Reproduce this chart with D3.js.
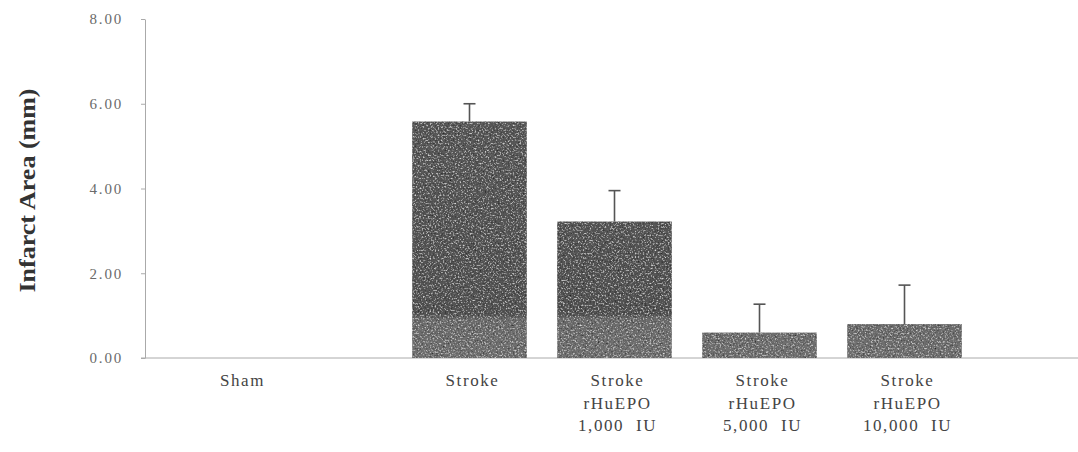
<!DOCTYPE html>
<html>
<head>
<meta charset="utf-8">
<script src="https://cdn.jsdelivr.net/npm/d3@7"></script>
<style>
  body { margin: 0; background: #fff; }
  svg { display: block; }
</style>
</head>
<body>
<svg id="chart" width="1078" height="452"></svg>
<script>
// data
const categories = ["Sham", "Stroke", "Stroke 1,000", "Stroke 5,000", "Stroke 10,000"];
const labelLines = [
  ["Sham"],
  ["Stroke"],
  ["Stroke", "rHuEPO", "1,000  IU"],
  ["Stroke", "rHuEPO", "5,000  IU"],
  ["Stroke", "rHuEPO", "10,000  IU"],
];
const means = [0, 5.58, 3.22, 0.6, 0.8];
const errors = [0, 0.42, 0.73, 0.67, 0.92];
const yTicks = [0, 2, 4, 6, 8];

const svg = d3.select("#chart");
const W = 1078, H = 452;
const margin = { top: 19, left: 145, bottom: 94 };

const y = d3.scaleLinear([0, 8], [H - margin.bottom, margin.top]);
const x = d3.scaleBand(categories, [252, 977]).paddingInner(0.21).paddingOuter(0.105);

// texture for the scanned bars: dark / light speckles laid over the fill
const defs = svg.append("defs");
const f = defs.append("filter").attr("id", "grain").attr("x", 0).attr("y", 0).attr("width", 1).attr("height", 1);
f.append("feTurbulence").attr("type", "fractalNoise").attr("baseFrequency", 0.6).attr("numOctaves", 2).attr("seed", 7).attr("result", "n");
f.append("feColorMatrix").attr("in", "n").attr("type", "matrix")
  .attr("values", "0 0 0 0 0  0 0 0 0 0  0 0 0 0 0  2.4 0 0 0 -1.3").attr("result", "dark");
f.append("feColorMatrix").attr("in", "n").attr("type", "matrix")
  .attr("values", "0 0 0 0 1  0 0 0 0 1  0 0 0 0 1  -2.0 0 0 0 0.9").attr("result", "light");
f.append("feComposite").attr("in", "dark").attr("in2", "SourceGraphic").attr("operator", "in").attr("result", "d2");
f.append("feComposite").attr("in", "light").attr("in2", "SourceGraphic").attr("operator", "in").attr("result", "l2");
const m = f.append("feMerge");
m.append("feMergeNode").attr("in", "SourceGraphic");
m.append("feMergeNode").attr("in", "l2");
m.append("feMergeNode").attr("in", "d2");

const grad = defs.append("linearGradient").attr("id", "barFill")
  .attr("gradientUnits", "userSpaceOnUse")
  .attr("x1", 0).attr("x2", 0).attr("y1", y(8)).attr("y2", y(0));
grad.append("stop").attr("offset", 0).attr("stop-color", "#5c5c5c");
grad.append("stop").attr("offset", 0.55).attr("stop-color", "#575757");
grad.append("stop").attr("offset", 0.87).attr("stop-color", "#535353");
grad.append("stop").attr("offset", 0.885).attr("stop-color", "#6c6c6c");
grad.append("stop").attr("offset", 1).attr("stop-color", "#707070");

// y axis
const yAxis = d3.axisLeft(y).tickValues(yTicks).tickFormat(d3.format(".2f")).tickSize(4).tickSizeOuter(0);
svg.append("g")
  .attr("transform", `translate(${margin.left},0)`)
  .call(yAxis)
  .call(g => {
    g.select(".domain").attr("stroke", "#aaa");
    g.selectAll(".tick line").attr("stroke", "#aaa");
    g.selectAll(".tick text")
      .attr("x", -22)
      .attr("fill", "#6a6a6a")
      .attr("font-family", "Liberation Serif, serif")
      .attr("font-size", 15)
      .attr("letter-spacing", 1.8);
  });

// x axis line
svg.append("line")
  .attr("x1", margin.left - 4).attr("x2", W)
  .attr("y1", y(0)).attr("y2", y(0))
  .attr("stroke", "#aaa");

// y label
svg.append("text")
  .attr("transform", `translate(35,${(y(8) + y(0)) / 2 + 2}) rotate(-90)`)
  .attr("text-anchor", "middle")
  .attr("font-family", "Liberation Serif, serif")
  .attr("font-weight", "bold")
  .attr("font-size", 23)
  .attr("fill", "#333")
  .attr("textLength", 204)
  .attr("lengthAdjust", "spacingAndGlyphs")
  .text("Infarct Area (mm)");

// bars
const bars = svg.append("g").selectAll("g")
  .data(categories.map((c, i) => ({ c, m: means[i], e: errors[i] })))
  .join("g");

bars.filter(d => d.m > 0)
  .append("rect")
  .attr("x", d => x(d.c))
  .attr("width", x.bandwidth())
  .attr("y", d => y(d.m))
  .attr("height", d => y(0) - y(d.m))
  .attr("fill", "url(#barFill)")
  .attr("filter", "url(#grain)");

// error bars (upper only)
bars.filter(d => d.e > 0)
  .call(g => {
    g.append("line")
      .attr("x1", d => x(d.c) + x.bandwidth() / 2)
      .attr("x2", d => x(d.c) + x.bandwidth() / 2)
      .attr("y1", d => y(d.m))
      .attr("y2", d => y(d.m + d.e))
      .attr("stroke", "#555")
      .attr("stroke-width", 1.6);
    g.append("line")
      .attr("x1", d => x(d.c) + x.bandwidth() / 2 - 6)
      .attr("x2", d => x(d.c) + x.bandwidth() / 2 + 6)
      .attr("y1", d => y(d.m + d.e))
      .attr("y2", d => y(d.m + d.e))
      .attr("stroke", "#555")
      .attr("stroke-width", 1.6);
  });

// category labels; Sham label sits left of its slot in the original
const labelShift = c => (c === "Sham" ? -82 : 3);
svg.append("g")
  .selectAll("text")
  .data(categories)
  .join("text")
  .attr("x", c => x(c) + x.bandwidth() / 2 + labelShift(c))
  .attr("y", y(0) + 28)
  .attr("text-anchor", "middle")
  .attr("font-family", "Liberation Serif, serif")
  .attr("font-size", 17)
  .attr("letter-spacing", 1.6)
  .attr("fill", "#444")
  .call(t => t.each(function (c, i) {
    d3.select(this).selectAll("tspan")
      .data(labelLines[i])
      .join("tspan")
      .attr("x", () => x(c) + x.bandwidth() / 2 + labelShift(c))
      .attr("dy", (s, j) => (j === 0 ? 0 : 22.5))
      .attr("xml:space", "preserve")
      .text(s => s);
  }));
</script>
</body>
</html>
